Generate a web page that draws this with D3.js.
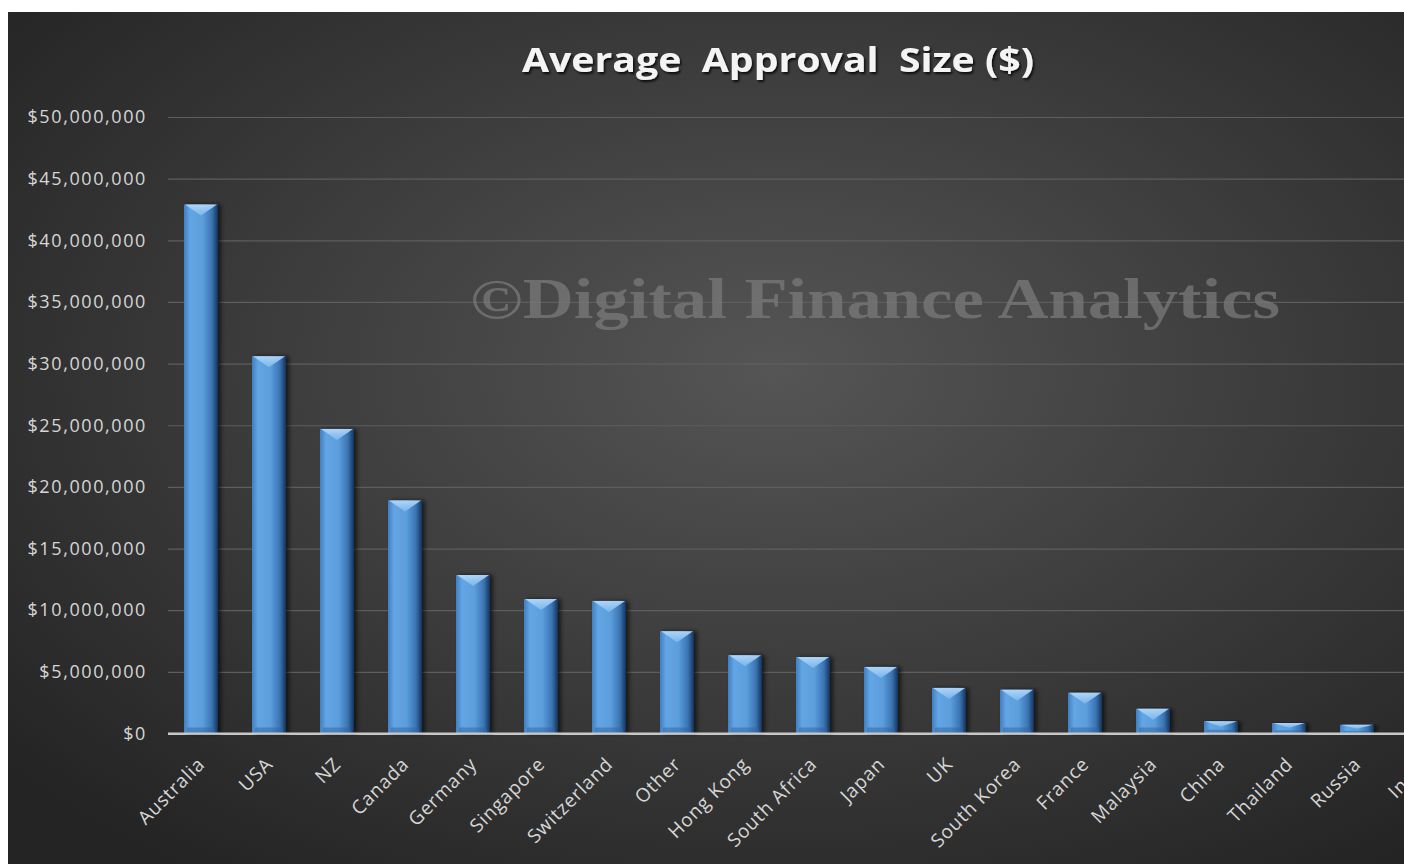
<!DOCTYPE html>
<html>
<head>
<meta charset="utf-8">
<script src="https://cdn.jsdelivr.net/npm/d3@7"></script>
<style>
  body { margin: 0; background: #fff; overflow: hidden; }
  svg { display: block; }
</style>
</head>
<body>
<script>
// Chart data
var countries = ["Australia", "USA", "NZ", "Canada", "Germany", "Singapore", "Switzerland", "Other",
  "Hong Kong", "South Africa", "Japan", "UK", "South Korea", "France", "Malaysia", "China",
  "Thailand", "Russia", "India"];
var approvalSize = [42900000, 30600000, 24700000, 18900000, 12850000, 10900000, 10750000, 8300000,
  6350000, 6200000, 5400000, 3700000, 3550000, 3300000, 2000000, 1000000,
  850000, 700000, 500000];
var yTicks = [0, 5000000, 10000000, 15000000, 20000000, 25000000, 30000000, 35000000, 40000000, 45000000, 50000000];

var svgWidth = 1404;
var svgHeight = 864;
var margin = { top: 117, left: 168, bottom: 130 };

var svg = d3.select("body")
  .append("svg")
  .attr("width", svgWidth)
  .attr("height", svgHeight);

var defs = svg.append("defs");

var bg = defs.append("radialGradient")
  .attr("id", "bg")
  .attr("cx", "55%").attr("cy", "42%").attr("r", "72%");
bg.append("stop").attr("offset", "0%").attr("stop-color", "#555555");
bg.append("stop").attr("offset", "100%").attr("stop-color", "#242424");

var barGrad = defs.append("linearGradient")
  .attr("id", "barGrad")
  .attr("x1", "0%").attr("x2", "100%").attr("y1", "0%").attr("y2", "0%");
barGrad.append("stop").attr("offset", "0%").attr("stop-color", "#3f7fc0");
barGrad.append("stop").attr("offset", "18%").attr("stop-color", "#64a5e4");
barGrad.append("stop").attr("offset", "55%").attr("stop-color", "#5c9ddc");
barGrad.append("stop").attr("offset", "82%").attr("stop-color", "#3a74b2");
barGrad.append("stop").attr("offset", "100%").attr("stop-color", "#14345a");

var topGrad = defs.append("linearGradient")
  .attr("id", "topGrad")
  .attr("x1", "0%").attr("x2", "0%").attr("y1", "0%").attr("y2", "100%");
topGrad.append("stop").attr("offset", "0%").attr("stop-color", "#b7dbfb");
topGrad.append("stop").attr("offset", "100%").attr("stop-color", "#7cb7ec");

var shadow = defs.append("filter").attr("id", "titleShadow")
  .attr("x", "-5%").attr("y", "-20%").attr("width", "110%").attr("height", "150%");
shadow.append("feDropShadow")
  .attr("dx", 1.5).attr("dy", 2).attr("stdDeviation", 1.2)
  .attr("flood-color", "#000").attr("flood-opacity", 0.8);

var barShadow = defs.append("filter").attr("id", "barShadow")
  .attr("x", "-20%").attr("y", "-5%").attr("width", "150%").attr("height", "110%");
barShadow.append("feDropShadow")
  .attr("dx", 3).attr("dy", 0).attr("stdDeviation", 2)
  .attr("flood-color", "#000").attr("flood-opacity", 0.6);

// background panel
svg.append("rect")
  .attr("x", 8).attr("y", 12)
  .attr("width", svgWidth - 8).attr("height", svgHeight - 12)
  .attr("fill", "url(#bg)");

// scales
var xCountry = d3.scaleBand()
  .domain(countries)
  .range([margin.left, 1458])
  .paddingInner(0.5)
  .paddingOuter(0.235);

var ySize = d3.scaleLinear()
  .domain([0, 50000000])
  .range([733.5, margin.top]);

// gridlines + y labels
var leftAxis = d3.axisLeft(ySize)
  .tickValues(yTicks)
  .tickSize(-(svgWidth - margin.left))
  .tickPadding(21)
  .tickFormat(d => "$" + d3.format(",")(d));

var yAxisG = svg.append("g")
  .attr("transform", `translate(${margin.left}, 0)`)
  .call(leftAxis);
yAxisG.select(".domain").remove();
yAxisG.selectAll("line")
  .attr("stroke", d => d === 0 ? "#c8c8c8" : "#5e5e5e")
  .attr("stroke-width", d => d === 0 ? 2 : 1.2);
yAxisG.selectAll("text")
  .attr("fill", "#d6d6d6")
  .style("font-family", "'Open Sans', sans-serif")
  .style("font-size", "18px")
  .style("letter-spacing", "1.6px");

// watermark
svg.append("text")
  .attr("x", 470)
  .attr("y", 318)
  .attr("textLength", 810)
  .attr("lengthAdjust", "spacingAndGlyphs")
  .attr("fill", "#7a7a7a")
  .attr("fill-opacity", 0.75)
  .style("font-family", "'Liberation Serif', serif")
  .style("font-weight", "bold")
  .style("font-size", "57px")
  .text("\u00A9Digital Finance Analytics");

// bars
var bars = svg.selectAll(".bar")
  .data(countries)
  .enter()
  .append("g")
  .attr("class", "bar")
  .attr("filter", "url(#barShadow)");

bars.append("rect")
  .attr("x", d => xCountry(d))
  .attr("y", (d, i) => ySize(approvalSize[i]))
  .attr("width", xCountry.bandwidth())
  .attr("height", (d, i) => ySize(0) - ySize(approvalSize[i]))
  .attr("fill", "url(#barGrad)");

// top bevel
bars.append("polygon")
  .attr("points", function(d, i) {
    var x0 = xCountry(d), w = xCountry.bandwidth();
    var y0 = ySize(approvalSize[i]);
    var h = Math.min(11, (ySize(0) - y0) * 0.45);
    return [[x0 + 1, y0], [x0 + w - 1, y0], [x0 + w / 2, y0 + h]].join(" ");
  })
  .attr("fill", "url(#topGrad)")
  .attr("opacity", 0.9);

// bottom bevel
bars.append("rect")
  .attr("x", d => xCountry(d) + 3)
  .attr("y", (d, i) => ySize(0) - Math.min(6, (ySize(0) - ySize(approvalSize[i])) * 0.3))
  .attr("width", xCountry.bandwidth() - 6)
  .attr("height", (d, i) => Math.min(6, (ySize(0) - ySize(approvalSize[i])) * 0.3))
  .attr("fill", "#2f64a0")
  .attr("opacity", 0.5);

// baseline redrawn on top of bars
svg.append("line")
  .attr("x1", margin.left).attr("x2", svgWidth)
  .attr("y1", ySize(0)).attr("y2", ySize(0))
  .attr("stroke", "#c8c8c8")
  .attr("stroke-width", 2);

// x labels
svg.selectAll(".xlabel")
  .data(countries)
  .enter()
  .append("text")
  .attr("class", "xlabel")
  .attr("text-anchor", "end")
  .attr("transform", d => `translate(${xCountry(d) + xCountry.bandwidth() / 2 + 5}, ${ySize(0) + 32}) rotate(-45)`)
  .attr("fill", "#d6d6d6")
  .style("font-family", "'Open Sans', sans-serif")
  .style("font-size", "19px")
  .style("letter-spacing", "0.8px")
  .text(d => d);

// title
svg.append("text")
  .attr("x", 778)
  .attr("y", 72)
  .attr("text-anchor", "middle")
  .attr("textLength", 512)
  .attr("lengthAdjust", "spacingAndGlyphs")
  .attr("fill", "#f4f4f4")
  .attr("filter", "url(#titleShadow)")
  .style("font-family", "'Open Sans', sans-serif")
  .style("font-weight", "bold")
  .style("font-size", "34px")
  .style("white-space", "pre")
  .text("Average  Approval  Size ($)");
</script>
</body>
</html>
